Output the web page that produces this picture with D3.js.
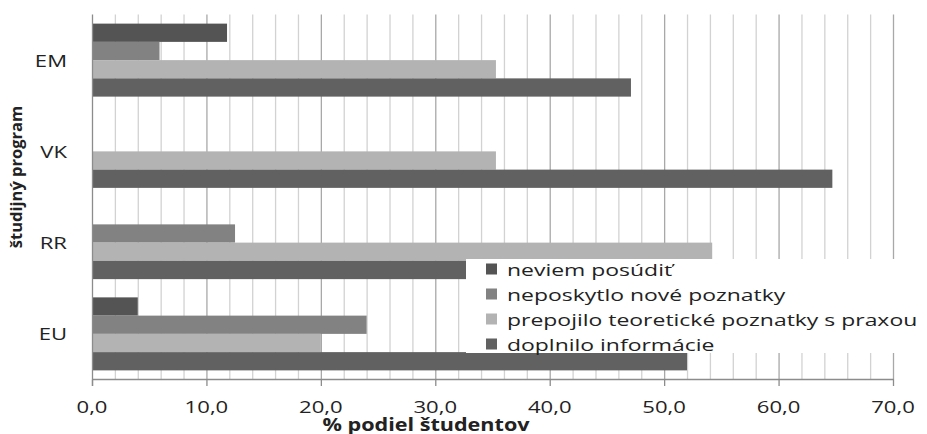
<!DOCTYPE html>
<html>
<head>
<meta charset="utf-8">
<script src="https://cdn.jsdelivr.net/npm/d3@7"></script>
<style>
  html, body { margin: 0; padding: 0; background: #fff; }
  svg { display: block; }
  text { font-family: "Open Sans", "Noto Sans", sans-serif; }
</style>
</head>
<body>
<svg id="chart" width="927" height="434"></svg>
<script>
// ---- data ----
const categories = ["EM", "VK", "RR", "EU"];
const seriesNames = ["neviem posúdiť", "neposkytlo nové poznatky", "prepojilo teoretické poznatky s praxou", "doplnilo informácie"];
const neviem      = [11.8, 0, 0, 4.0];
const neposkytlo  = [5.9, 0, 12.5, 24.0];
const prepojilo   = [35.3, 35.3, 54.2, 20.0];
const doplnilo    = [47.1, 64.7, 33.3, 52.0];
const seriesColors = ["#545454", "#828282", "#b3b3b3", "#616161"];
const xTicks = [0, 10, 20, 30, 40, 50, 60, 70];
const xTickLabels = ["0,0", "10,0", "20,0", "30,0", "40,0", "50,0", "60,0", "70,0"];
const xTitle = "% podiel študentov";
const yTitle = "študijný program";

const seriesValues = [neviem, neposkytlo, prepojilo, doplnilo];

(function () {
const svg = d3.select("#chart");
const SX = 1.3; // horizontal stretch of text as in reference

const pLeft = 92, pRight = 893, pTop = 14.5, pBottom = 379.5;

const x = d3.scaleLinear().domain([0, 70]).range([pLeft, pRight]);
const y = d3.scaleBand().domain(categories).range([pTop, pBottom]).paddingInner(0.2).paddingOuter(0.1);
const ySub = d3.scaleBand().domain(d3.range(seriesNames.length)).range([0, y.bandwidth()]);

// gridlines: minor every 2, major every 10
const minor = d3.range(2, 70.001, 2).filter(v => v % 10 !== 0);
svg.append("g").selectAll("line").data(minor).join("line")
  .attr("x1", d => x(d) + 0.5).attr("x2", d => x(d) + 0.5)
  .attr("y1", pTop).attr("y2", pBottom)
  .attr("stroke", "#d2d2d2").attr("stroke-width", 1.3);
svg.append("g").selectAll("line").data(xTicks.slice(1)).join("line")
  .attr("x1", d => x(d) + 0.5).attr("x2", d => x(d) + 0.5)
  .attr("y1", pTop).attr("y2", pBottom)
  .attr("stroke", "#a8a8a8").attr("stroke-width", 1.3);

// bars
const bars = [];
categories.forEach((c, ci) => {
  seriesValues.forEach((vals, si) => {
    bars.push({ c, si, v: vals[ci] });
  });
});
svg.append("g").selectAll("rect").data(bars.filter(d => d.v > 0)).join("rect")
  .attr("x", x(0))
  .attr("y", d => y(d.c) + ySub(d.si))
  .attr("width", d => x(d.v) - x(0))
  .attr("height", ySub.bandwidth())
  .attr("fill", d => seriesColors[d.si]);

// axes lines
svg.append("line").attr("x1", pLeft + 0.5).attr("x2", pLeft + 0.5).attr("y1", pTop).attr("y2", 386)
  .attr("stroke", "#8c8c8c").attr("stroke-width", 1.3);
svg.append("line").attr("x1", pLeft).attr("x2", pRight + 1).attr("y1", pBottom).attr("y2", pBottom)
  .attr("stroke", "#8c8c8c").attr("stroke-width", 1.3);
svg.append("g").selectAll("line").data(xTicks).join("line")
  .attr("x1", d => x(d) + 0.5).attr("x2", d => x(d) + 0.5)
  .attr("y1", pBottom).attr("y2", 386)
  .attr("stroke", "#8c8c8c").attr("stroke-width", 1.3);

function stext(g, tx, ty, str, opts) {
  opts = opts || {};
  return g.append("text")
    .attr("transform", `translate(${tx},${ty}) scale(${opts.sx || SX},1)`)
    .attr("text-anchor", opts.anchor || "start")
    .attr("font-size", opts.size || 17)
    .attr("font-weight", opts.weight || "normal")
    .attr("fill", opts.fill || "#222")
    .text(str);
}

// x tick labels
xTicks.forEach((t, i) => stext(svg, x(t), 412.5, xTickLabels[i], { anchor: "middle" }));

// category labels
categories.forEach(c => stext(svg, 67, y(c) + y.bandwidth() / 2 + 6.5, c, { anchor: "end" }));

// axis titles
stext(svg, 426, 430.5, xTitle, { anchor: "middle", weight: "bold", sx: 1.27, size: 17 });
svg.append("text")
  .attr("transform", "translate(22,177) rotate(-90)")
  .attr("text-anchor", "middle")
  .attr("font-size", 16.5)
  .attr("font-weight", "bold")
  .attr("fill", "#222")
  .text(yTitle);

// legend
const lg = svg.append("g");
lg.append("rect").attr("x", 466).attr("y", 259).attr("width", 461).attr("height", 94).attr("fill", "#fff");
seriesNames.forEach((n, i) => {
  const cy = 269 + i * 25;
  lg.append("rect").attr("x", 486).attr("y", cy - 5.5).attr("width", 11).attr("height", 11).attr("fill", seriesColors[i]);
  stext(lg, 507, cy + 7, n, { sx: 1.35 });
});
})();
</script>
</body>
</html>
